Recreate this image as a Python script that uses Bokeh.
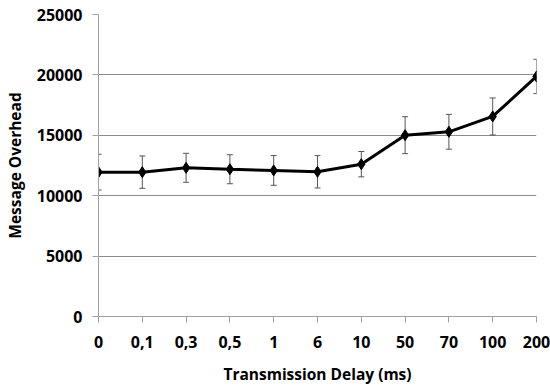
from bokeh.plotting import figure
from bokeh.models import ColumnDataSource, Range1d, FixedTicker, Whisker, TeeHead
from bokeh.embed import file_html
from bokeh.resources import INLINE

categories = ["0", "0,1", "0,3", "0,5", "1", "6", "10", "50", "70", "100", "200"]
overhead = [11950, 11950, 12310, 12190, 12090, 11980, 12610, 15010, 15290, 16560, 19870]
error = [1480, 1340, 1200, 1200, 1230, 1340, 1050, 1530, 1440, 1530, 1420]
y_ticks = [0, 5000, 10000, 15000, 20000, 25000]

xs = list(range(len(categories)))
src = ColumnDataSource(dict(
    x=xs, y=overhead,
    upper=[v + e for v, e in zip(overhead, error)],
    lower=[v - e for v, e in zip(overhead, error)],
))

FONT = "Open Sans"
p = figure(width=550, height=387, output_backend="svg", toolbar_location=None,
           x_range=Range1d(0, len(categories) - 1), y_range=Range1d(0, 25000),
           min_border_left=96, min_border_right=14, min_border_top=14, min_border_bottom=71)
p.outline_line_color = None
p.background_fill_color = "white"

w = Whisker(source=src, base="x", upper="upper", lower="lower",
            line_color="#555555", line_width=1,
            upper_head=TeeHead(size=6, line_color="#555555", line_width=1),
            lower_head=TeeHead(size=6, line_color="#555555", line_width=1))
p.add_layout(w)

p.line("x", "y", source=src, line_color="black", line_width=3)
p.scatter("x", "y", source=src, marker="diamond", size=11, color="black")

p.xgrid.visible = False
p.ygrid.grid_line_color = "#8c8c8c"
p.ygrid.grid_line_width = 1
p.ygrid.ticker = FixedTicker(ticks=y_ticks)

p.xaxis.ticker = FixedTicker(ticks=xs)
p.xaxis.major_label_overrides = {i: c for i, c in enumerate(categories)}
p.yaxis.ticker = FixedTicker(ticks=y_ticks)

for ax in (p.xaxis, p.yaxis):
    ax.axis_line_color = "#a0a0a0"
    ax.major_tick_line_color = "#a0a0a0"
    ax.minor_tick_line_color = None
    ax.major_tick_in = 0
    ax.major_tick_out = 6
    ax.major_label_text_font = FONT
    ax.major_label_text_font_style = "bold"
    ax.major_label_text_font_size = "16px"
    ax.major_label_text_color = "black"
    ax.axis_label_text_font = FONT
    ax.axis_label_text_font_style = "bold"
    ax.axis_label_text_font_size = "15.5px"
    ax.axis_label_text_color = "black"

p.xaxis.axis_label = "Transmission Delay (ms)"
p.yaxis.axis_label = "Message Overhead"
p.yaxis.major_label_standoff = 10
p.xaxis.major_label_standoff = 13
p.yaxis.axis_label_standoff = 8
p.xaxis.axis_label_standoff = 12

open("out.html", "w").write(file_html(p, INLINE))
